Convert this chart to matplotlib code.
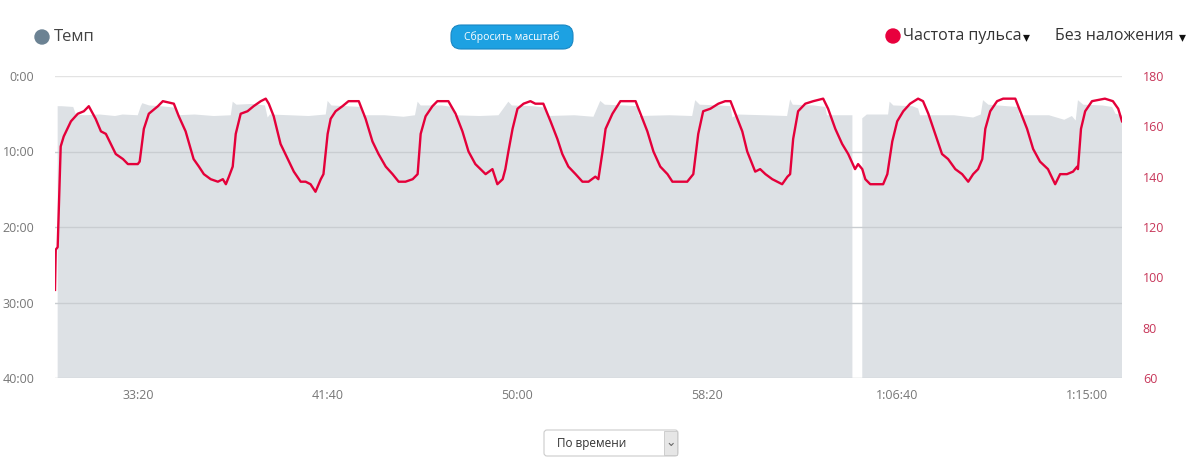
import numpy as np
import matplotlib.pyplot as plt
from matplotlib.patches import FancyBboxPatch, Circle, Rectangle

plt.rcParams['font.family'] = ['Open Sans', 'DejaVu Sans']

# heart rate (time in seconds from start, bpm)
hr_t = [1782, 1784, 1789, 1797, 1805, 1824, 1842, 1858, 1871, 1889, 1903, 1916, 1929, 1942,
        1961, 1974, 1989, 2000, 2005, 2016, 2029, 2053, 2066, 2095, 2108, 2126, 2147, 2161,
        2174, 2192, 2211, 2224, 2232, 2240, 2250, 2258, 2271, 2289, 2305, 2324, 2337, 2345,
        2358, 2376, 2395, 2411, 2429, 2442, 2455, 2468, 2482, 2489, 2500, 2508, 2521, 2539,
        2555, 2582, 2600, 2618, 2634, 2653, 2671, 2687, 2705, 2724, 2737, 2745, 2758, 2776,
        2789, 2818, 2837, 2855, 2871, 2889, 2916, 2934, 2947, 2961, 2968, 2976, 2987, 3000,
        3016, 3034, 3047, 3068, 3087, 3105, 3118, 3134, 3153, 3171, 3187, 3205, 3213, 3224,
        3232, 3250, 3271, 3311, 3324, 3342, 3358, 3376, 3395, 3408, 3429, 3447, 3463, 3476,
        3489, 3508, 3529, 3547, 3561, 3574, 3592, 3605, 3618, 3626, 3639, 3653, 3671, 3697,
        3711, 3718, 3726, 3739, 3758, 3779, 3805, 3818, 3837, 3855, 3871, 3889, 3897, 3908,
        3916, 3929, 3947, 3963, 3974, 3987, 4000, 4016, 4034, 4055, 4068, 4082, 4100, 4118,
        4134, 4153, 4171, 4187, 4200, 4213, 4224, 4232, 4245, 4263, 4279, 4311, 4324, 4342,
        4358, 4376, 4397, 4416, 4429, 4447, 4463, 4474, 4476, 4484, 4495, 4513, 4547, 4568,
        4582, 4592]
hr_bpm = [95, 111, 112, 152, 156, 162, 165, 166, 168, 163, 158, 157, 153, 149,
          147, 145, 145, 145, 146, 159, 165, 168, 170, 169, 164, 158, 147, 144,
          141, 139, 138, 139, 137, 140, 144, 157, 165, 166, 168, 170, 171, 169,
          164, 153, 147, 142, 138, 138, 137, 134, 139, 141, 157, 163, 166, 168,
          170, 170, 163, 154, 149, 144, 141, 138, 138, 139, 141, 157, 164, 168,
          170, 170, 165, 158, 150, 145, 141, 143, 137, 139, 143, 150, 159, 167,
          169, 170, 169, 169, 162, 155, 149, 144, 141, 138, 138, 140, 139, 150,
          159, 165, 170, 170, 165, 158, 150, 144, 141, 138, 138, 138, 141, 157,
          166, 167, 169, 170, 170, 165, 158, 150, 145, 142, 143, 141, 139, 137,
          140, 141, 155, 166, 169, 170, 171, 167, 159, 153, 149, 143, 145, 143,
          139, 137, 137, 137, 141, 154, 162, 166, 169, 171, 170, 165, 157, 149,
          147, 143, 141, 138, 141, 143, 147, 159, 166, 170, 171, 171, 166, 159,
          151, 146, 143, 137, 141, 141, 142, 144, 143, 159, 166, 170, 171, 170,
          167, 162]

# pace (min/km), nan = no data
pace_t = [1789, 1800, 1830, 1837, 1860, 1900, 1940, 1960, 2000, 2008, 2012, 2030, 2060, 2100,
          2105, 2150, 2200, 2245, 2250, 2260, 2300, 2335, 2342, 2348, 2400, 2450, 2495, 2500,
          2510, 2550, 2587, 2592, 2650, 2700, 2730, 2737, 2745, 2800, 2829, 2834, 2900, 2950,
          2976, 2985, 3040, 3074, 3080, 3150, 3200, 3218, 3230, 3280, 3316, 3320, 3400, 3460,
          3468, 3480, 3530, 3561, 3566, 3580, 3650, 3710, 3718, 3725, 3780, 3811, 3815, 3882,
          3895, 3908, 3920, 3976, 3980, 3990, 4040, 4055, 4060, 4150, 4200, 4220, 4226, 4240,
          4290, 4318, 4322, 4400, 4440, 4460, 4470, 4476, 4490, 4540, 4566, 4575, 4592]
pace_min = [4.0, 4.0, 4.1, 5.1, 5.2, 5.1, 5.3, 5.1, 5.2, 4.0, 3.6, 3.9, 4.0, 4.2,
            5.2, 5.1, 5.3, 5.2, 3.4, 3.8, 3.7, 3.9, 5.5, 5.1, 5.2, 5.3, 5.1, 3.3,
            3.9, 4.0, 4.1, 5.2, 5.2, 5.4, 5.2, 3.4, 3.9, 3.9, 4.1, 5.2, 5.3, 5.2,
            3.4, 3.9, 4.0, 4.2, 5.3, 5.2, 5.4, 3.3, 3.8, 3.9, 4.0, 5.3, 5.2, 5.3,
            3.2, 3.8, 3.9, 4.0, 5.5, 5.1, 5.2, 5.3, 3.1, 3.8, 3.9, 4.1, 5.2, 5.2,
            np.nan, 5.6, 5.1, 5.1, 3.4, 3.9, 4.0, 4.3, 5.2, 5.2, 5.5, 5.1, 3.2, 3.8,
            4.0, 4.1, 5.2, 5.2, 5.8, 5.3, 5.9, 3.2, 3.8, 3.9, 4.1, 5.0, 5.2]

x_ticks = [2000, 2500, 3000, 3500, 4000, 4500]
x_labels = ['33:20', '41:40', '50:00', '58:20', '1:06:40', '1:15:00']
pace_ticks = [0, 10, 20, 30, 40]
pace_labels = ['0:00', '10:00', '20:00', '30:00', '40:00']
hr_ticks = [60, 80, 100, 120, 140, 160, 180]

W, H = 1200, 466
fig = plt.figure(figsize=(W / 100, H / 100), dpi=100)
ax = fig.add_axes([55 / W, (H - 378) / H, (1122 - 55) / W, 302 / H])

pace = np.array(pace_min)
ax.fill_between(pace_t, pace, 40, color='#dde1e5', lw=0, zorder=1)
ax.set_xlim(1782, 4592)
ax.set_ylim(40, 0)
ax.set_yticks(pace_ticks)
ax.set_yticklabels(pace_labels)
for v in pace_ticks:
    ax.axhline(v, color='#c9cdd1' if v != 0 else '#e3e3e3', lw=1, zorder=2)
ax.set_xticks(x_ticks)
ax.set_xticklabels(x_labels)
ax.tick_params(length=0, colors='#777777', labelsize=9)
ax.tick_params(axis='y', pad=15)
ax.tick_params(axis='x', pad=8)
for s in ax.spines.values():
    s.set_visible(False)

ax2 = ax.twinx()
ax2.plot(hr_t, hr_bpm, color='#e4003a', lw=1.7, zorder=3)
ax2.set_ylim(60, 180)
ax2.set_yticks(hr_ticks)
ax2.tick_params(length=0, colors='#c73659', labelsize=9, pad=15)
for s in ax2.spines.values():
    s.set_visible(False)

# header: legend items and buttons (inch coords from top-left pixels)
tr = fig.dpi_scale_trans
def iy(y):
    return (H - y) / 100

fig.patches.append(Circle((42 / 100, iy(37)), 0.07, color='#6b8293', transform=tr))
fig.text(54 / W, (H - 37) / H, 'Темп', fontsize=12, color='#444444', va='center')

fig.patches.append(Circle((893 / 100, iy(36)), 0.07, color='#e8003d', transform=tr))
fig.text(903 / W, (H - 36) / H, 'Частота пульса', fontsize=11.5, color='#333333', va='center')
fig.text(1030 / W, (H - 37) / H, '▾', fontsize=10, color='#111111', va='center', ha='right',
         family=['DejaVu Sans'])
fig.text(1174 / W, (H - 36) / H, 'Без наложения', fontsize=11.5, color='#333333', va='center',
         ha='right')
fig.text(1186 / W, (H - 37) / H, '▾', fontsize=10, color='#111111', va='center', ha='right',
         family=['DejaVu Sans'])

btn = FancyBboxPatch((4.51, iy(49)), 1.22, 0.24, boxstyle='round,pad=0,rounding_size=0.1',
                     fc='#1da1e2', ec='#1886c2', lw=0.8, transform=tr)
fig.patches.append(btn)
fig.text(512 / W, (H - 37) / H, 'Сбросить масштаб', fontsize=7.5, color='white',
         ha='center', va='center')

dd = FancyBboxPatch((5.44, iy(456)), 1.34, 0.26, boxstyle='round,pad=0,rounding_size=0.03',
                    fc='white', ec='#cccccc', lw=0.8, transform=tr)
fig.patches.append(dd)
fig.patches.append(Rectangle((6.64, iy(455)), 0.13, 0.24, fc='#e6e6e6', ec='#c8c8c8',
                             lw=0.6, transform=tr))
fig.text(557 / W, (H - 443) / H, 'По времени', fontsize=8.5, color='#333333', va='center')
fig.text(671 / W, (H - 443) / H, '⌄', fontsize=9, color='#666666', va='center', ha='center',
         family=['DejaVu Sans'])

fig.savefig('out.png', dpi=100)
